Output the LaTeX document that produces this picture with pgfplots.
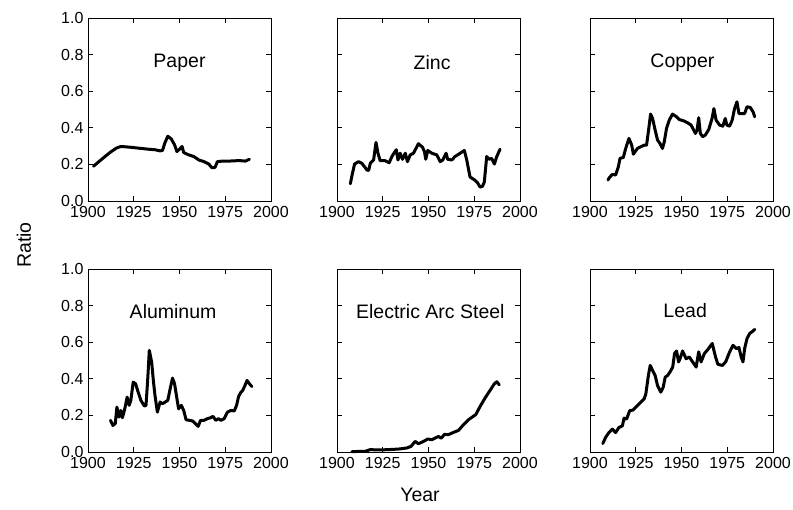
\documentclass[border=0pt]{standalone}
\usepackage{fontspec}
\setmainfont{Liberation Sans}
\usepackage{pgfplots}
\pgfplotsset{compat=1.18}
\pgfplotsset{
 panel/.style={
  scale only axis, width=183pt, height=183pt,
  xmin=1900, xmax=2000, ymin=0, ymax=1,
  xtick={1900,1925,1950,1975,2000},
  xticklabels={1900,1925,1950,1975,2000},
  ytick={0,0.2,0.4,0.6,0.8,1},
  yticklabels={0.0,0.2,0.4,0.6,0.8,1.0},
  tick align=inside, major tick length=5pt,
  tick style={black, line width=0.8pt},
  axis line style={black, line width=0.8pt},
  x tick label style={font=\fontsize{16}{18}\selectfont, yshift=-1.5pt},
  y tick label style={font=\fontsize{16}{18}\selectfont, xshift=-1pt},
  anchor=south west, clip=false,
 },
 noy/.style={yticklabels={}},
}
\tikzset{
 ln/.style={black, line width=3pt, line join=round, line cap=round},
 ttl/.style={font=\fontsize{19.5}{22}\selectfont},
}
\begin{document}
\begin{tikzpicture}
\path[use as bounding box] (0,0) rectangle (793pt,510pt);
% Paper
\begin{axis}[panel, at={(88pt,309pt)}]
\addplot[ln] coordinates {(1903,0.19)(1907,0.224)(1912,0.265)(1915.5,0.289)(1918,0.298)(1924,0.293)(1927.4,0.289)(1933,0.283)(1936.6,0.28)(1939.4,0.274)(1940.7,0.276)(1942,0.317)(1943.6,0.354)(1945.5,0.339)(1947.3,0.307)(1948.6,0.27)(1950,0.283)(1951.4,0.298)(1952.3,0.265)(1955,0.252)(1957.8,0.243)(1960.6,0.224)(1963.4,0.215)(1966,0.202)(1967.6,0.183)(1969.4,0.183)(1970.7,0.215)(1973.5,0.218)(1977,0.218)(1981,0.22)(1983.6,0.22)(1986,0.218)(1988.2,0.228)};
\node[ttl] at (axis cs:1950,0.755) {Paper};
\end{axis}
% Zinc
\begin{axis}[panel, noy, at={(337pt,309pt)}]
\addplot[ln] coordinates {(1907.3,0.094)(1908.2,0.14)(1909.6,0.202)(1911.8,0.215)(1913.6,0.206)(1916.4,0.169)(1917.3,0.167)(1918.2,0.206)(1920,0.224)(1921.3,0.32)(1922.4,0.261)(1923.6,0.22)(1926.4,0.22)(1928.5,0.209)(1930,0.243)(1931.1,0.261)(1932.4,0.28)(1933.3,0.224)(1934.5,0.261)(1935.8,0.228)(1937.3,0.261)(1938.5,0.215)(1940,0.252)(1941.8,0.261)(1944.5,0.313)(1946.7,0.294)(1947.8,0.27)(1948.5,0.228)(1949.6,0.276)(1951.8,0.261)(1954.5,0.252)(1956.4,0.215)(1957.8,0.224)(1959.6,0.261)(1960.5,0.228)(1962.7,0.224)(1964.5,0.243)(1967.3,0.261)(1969.6,0.276)(1970.9,0.224)(1972.7,0.131)(1975.5,0.113)(1976.9,0.098)(1978.2,0.076)(1979.5,0.08)(1980.5,0.104)(1981.8,0.243)(1983.1,0.228)(1984.5,0.233)(1986,0.202)(1987.3,0.243)(1989.1,0.283)};
\node[ttl] at (axis cs:1952,0.755) {Zinc};
\end{axis}
% Copper
\begin{axis}[panel, noy, at={(590pt,309pt)}]
\addplot[ln] coordinates {(1909.8,0.115)(1910.7,0.129)(1912.2,0.145)(1914,0.142)(1915.5,0.187)(1916.4,0.233)(1918.2,0.238)(1919.5,0.287)(1921.3,0.342)(1922.8,0.305)(1923.7,0.256)(1925.9,0.287)(1927.7,0.296)(1929.6,0.305)(1930.9,0.305)(1932,0.387)(1933.1,0.475)(1934.2,0.451)(1935.4,0.396)(1936.9,0.333)(1938.2,0.315)(1939.6,0.287)(1940.6,0.324)(1941.8,0.396)(1943.3,0.442)(1945.1,0.475)(1947.3,0.46)(1948.8,0.445)(1951.2,0.438)(1953.4,0.427)(1955.2,0.415)(1956.5,0.391)(1957.6,0.369)(1958.5,0.387)(1959.4,0.455)(1960.3,0.369)(1961.6,0.351)(1963,0.36)(1964.9,0.391)(1966.7,0.451)(1967.7,0.505)(1968.9,0.442)(1970.8,0.415)(1972.6,0.409)(1973.9,0.451)(1974.8,0.415)(1976.3,0.409)(1977.7,0.442)(1979,0.505)(1980.3,0.542)(1981.4,0.478)(1983.2,0.478)(1984.5,0.478)(1985.8,0.515)(1987.6,0.511)(1989.1,0.487)(1990,0.46)};
\node[ttl] at (axis cs:1950.5,0.755) {Copper};
\end{axis}
% Aluminum
\begin{axis}[panel, at={(88pt,58pt)}]
\addplot[ln] coordinates {(1912.3,0.173)(1913.6,0.145)(1914.9,0.155)(1915.8,0.245)(1916.9,0.191)(1917.9,0.227)(1918.8,0.187)(1920.1,0.236)(1921.4,0.3)(1922.5,0.255)(1923.4,0.282)(1924.7,0.382)(1926,0.373)(1927.4,0.327)(1928.9,0.282)(1930.8,0.251)(1931.7,0.255)(1932.6,0.391)(1933.5,0.555)(1934.8,0.491)(1935.7,0.391)(1936.6,0.309)(1937.9,0.218)(1939.4,0.273)(1940.7,0.264)(1942.2,0.273)(1943.6,0.282)(1945.1,0.355)(1946.2,0.404)(1947.3,0.373)(1948.6,0.291)(1949.5,0.236)(1951,0.255)(1952.3,0.227)(1953.6,0.176)(1955.4,0.173)(1957.3,0.169)(1959.1,0.151)(1960.2,0.14)(1961.5,0.173)(1963.4,0.173)(1965.2,0.182)(1967,0.187)(1968.3,0.195)(1969.8,0.173)(1971.3,0.182)(1972.6,0.173)(1974.4,0.182)(1976.2,0.218)(1978.1,0.227)(1979.9,0.224)(1981.2,0.255)(1982.3,0.304)(1983.6,0.327)(1984.5,0.336)(1985.4,0.355)(1986.9,0.391)(1988.2,0.373)(1989.5,0.358)};
\node[ttl] at (axis cs:1946.5,0.77) {Aluminum};
\end{axis}
% Electric Arc Steel
\begin{axis}[panel, noy, at={(337pt,58pt)}]
\addplot[ln] coordinates {(1908.2,0.002)(1915.5,0.004)(1918.2,0.013)(1922.7,0.011)(1928.2,0.013)(1933.6,0.016)(1938.2,0.022)(1940.5,0.031)(1942.7,0.058)(1944.5,0.045)(1947.3,0.058)(1949.6,0.071)(1951.8,0.067)(1953.6,0.076)(1955.5,0.085)(1956.9,0.075)(1958.7,0.096)(1960.9,0.095)(1963.6,0.107)(1966.4,0.118)(1969.1,0.149)(1971.8,0.176)(1974.5,0.195)(1975.8,0.204)(1978.2,0.249)(1980.9,0.295)(1983.6,0.336)(1986,0.373)(1987.3,0.384)(1988.7,0.367)};
\node[ttl] at (axis cs:1951,0.765) {Electric Arc Steel};
\end{axis}
% Lead
\begin{axis}[panel, noy, at={(590pt,58pt)}]
\addplot[ln] coordinates {(1907,0.046)(1908.5,0.079)(1910.3,0.106)(1912.2,0.125)(1914,0.106)(1915.8,0.134)(1917.7,0.143)(1918.6,0.185)(1920,0.18)(1921.7,0.226)(1923.5,0.229)(1925.9,0.253)(1927.7,0.272)(1929.6,0.29)(1930.5,0.317)(1931.9,0.418)(1932.9,0.473)(1934.2,0.446)(1935.6,0.418)(1936.9,0.363)(1938.7,0.327)(1940,0.354)(1941.1,0.409)(1942.4,0.418)(1943.7,0.437)(1945.2,0.464)(1946.2,0.538)(1947.3,0.552)(1948.4,0.492)(1949.2,0.51)(1950.6,0.552)(1952.5,0.51)(1954.3,0.519)(1956.1,0.492)(1958,0.464)(1959.4,0.547)(1960.7,0.492)(1962.5,0.538)(1964.4,0.56)(1966.8,0.593)(1968.6,0.519)(1969.9,0.479)(1972.3,0.473)(1974.1,0.492)(1976.3,0.547)(1978.1,0.583)(1980,0.565)(1981.4,0.571)(1982.6,0.519)(1983.6,0.492)(1984.5,0.565)(1985.8,0.62)(1987.3,0.648)(1989.1,0.661)(1990,0.67)};
\node[ttl] at (axis cs:1952,0.775) {Lead};
\end{axis}
\node[ttl, rotate=90] at (24pt,265pt) {Ratio};
\node[ttl] at (420pt,15pt) {Year};
\end{tikzpicture}
\end{document}
